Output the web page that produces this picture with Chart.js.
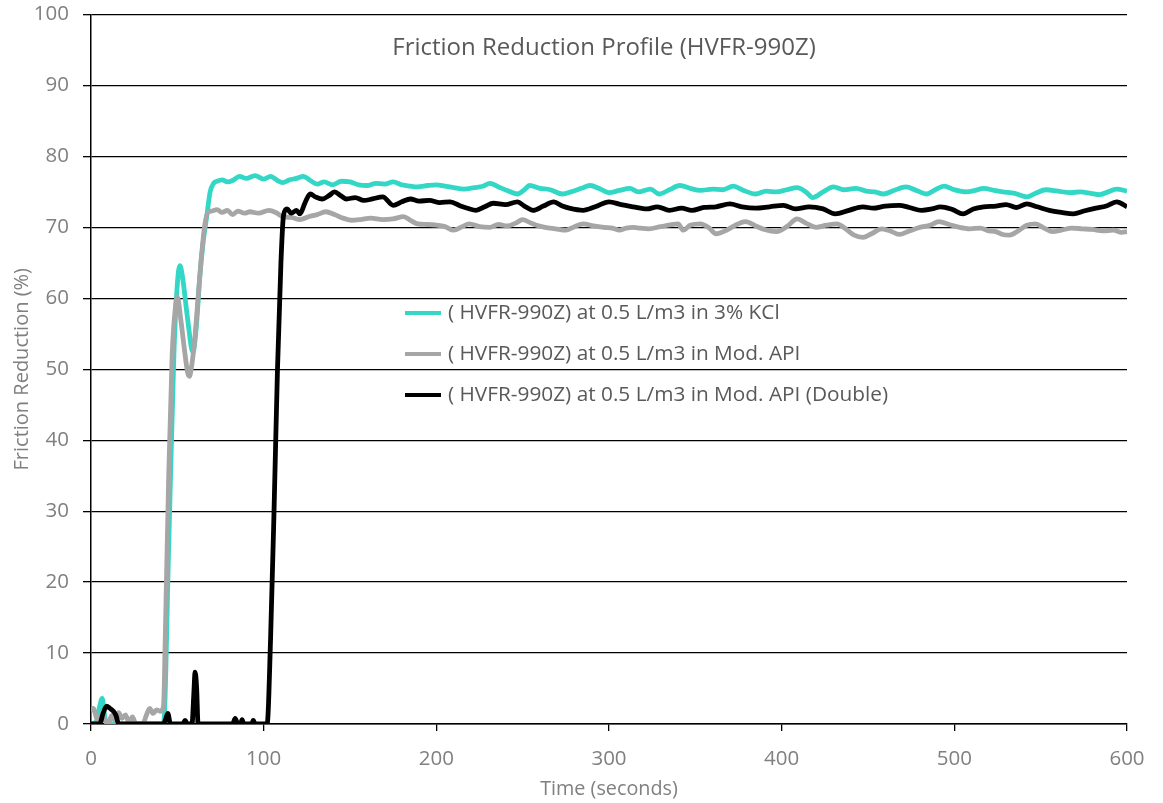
<!DOCTYPE html>
<html>
<head>
<meta charset="utf-8">
<script src="https://cdn.jsdelivr.net/npm/chart.js@4.4.1/dist/chart.umd.min.js"></script>
<style>
  html, body { margin: 0; padding: 0; background: #ffffff; }
  #wrap { width: 1163px; height: 803px; }
</style>
</head>
<body>
<div id="wrap"><canvas id="c" width="1163" height="803"></canvas></div>
<script>
const chartTitle = "Friction Reduction Profile (HVFR-990Z)";
const xAxisTitle = "Time (seconds)";
const yAxisTitle = "Friction Reduction (%)";
const seriesLabels = [
  "( HVFR-990Z) at 0.5 L/m3 in 3% KCl",
  "( HVFR-990Z) at 0.5 L/m3 in Mod. API",
  "( HVFR-990Z) at 0.5 L/m3 in Mod. API (Double)"
];
const seriesColors = ["#33D7C6", "#A6A6A6", "#000000"];

const kclTime = [0,3,5,6.5,8,9.5,42,45,48,50,51.5,53,56,59,61,63,65,67,69,71,73,76,79,82,86,90,95,100,104,108,111,115,119,123,127,131,135,140,145,150,155,160,165,170,175,180,185,189,195,200,205,210,216,222,227,231,236,241,247,251,254,260,266,273,278,284,289,295,300,306,312,317,324,329,335,341,347,353,360,366,372,378,385,391,397,403,409,414,418,424,430,436,443,449,454,459,465,472,478,484,489,494,500,507,512,517,523,528,535,542,547,553,560,567,573,579,584,589,594,600];
const kclValue = [0,0.3,2.5,3.6,1.0,0,0,25,52,62,64.6,63,57,52.4,56,63,68,71.5,75,76.2,76.5,76.7,76.4,76.6,77.2,76.9,77.3,76.8,77.2,76.6,76.3,76.7,76.9,77.2,76.6,76.1,76.4,76.0,76.5,76.4,76.0,75.9,76.2,76.1,76.4,76.0,75.8,75.7,75.9,76.0,75.8,75.6,75.4,75.6,75.8,76.2,75.7,75.2,74.7,75.3,75.9,75.5,75.3,74.7,75.0,75.5,75.9,75.4,74.9,75.2,75.5,75.0,75.4,74.7,75.3,75.9,75.5,75.2,75.4,75.3,75.8,75.2,74.7,75.1,75.0,75.3,75.6,75.0,74.2,75.0,75.7,75.3,75.5,75.1,75.0,74.7,75.2,75.7,75.2,74.7,75.3,75.8,75.3,75.0,75.2,75.5,75.2,75.0,74.8,74.3,74.8,75.3,75.1,74.9,75.0,74.8,74.6,75.0,75.4,75.1];

const apiTime = [0,1.5,3,4.5,6,8,10,12,14,16,18,20,22,24,26,30,32,34,36,38,40,42,43,45,47,49,50,52,54,56,57,58,60,62,64,66,68,70,73,76,79,82,85,89,92,97,103,107,111,116,121,126,131,136,141,146,151,156,162,169,175,181,185,189,195,200,205,210,215,219,225,231,236,241,246,250,254,258,263,269,275,280,285,291,297,302,306,310,314,318,323,330,340,343,347,353,358,362,368,374,379,385,390,397,403,409,414,420,426,432,437,442,447,452,458,463,468,474,480,486,491,497,503,509,515,520,524,528,532,537,542,547,552,557,562,568,574,580,586,592,597,600];
const apiValue = [1.8,2.2,1.0,0.3,1.5,0.6,0,1.2,0.5,1.6,0.8,1.3,0.2,1.0,0,0,1.2,2.2,1.5,2.0,1.8,2.5,12,35,52,59,60.2,57,53,49.5,49,50,54,60,66,70.5,72.2,72.3,72.5,72.1,72.4,71.8,72.3,72.0,72.2,72.0,72.4,72.1,71.5,71.4,71.1,71.5,71.8,72.2,71.8,71.3,71.0,71.1,71.3,71.1,71.2,71.5,71.0,70.5,70.4,70.3,70.1,69.6,70.1,70.5,70.1,70.0,70.4,70.2,70.6,71.1,70.7,70.3,70.0,69.8,69.6,70.1,70.5,70.2,70.0,69.9,69.6,69.9,70.0,69.9,69.8,70.1,70.5,69.6,70.3,70.5,69.9,69.1,69.6,70.4,70.8,70.2,69.7,69.4,70.1,71.2,70.6,70.0,70.3,70.5,69.8,68.9,68.6,69.1,69.8,69.5,69.0,69.5,70.0,70.3,70.8,70.4,70.0,69.8,69.9,69.5,69.4,69.0,68.9,69.5,70.3,70.5,69.9,69.4,69.6,69.9,69.8,69.7,69.5,69.6,69.3,69.4];

const dblTime = [0,5,7,9,11,13,14.5,16,42,43,44.5,46,53,54.5,56,58.5,59.5,60.3,61.2,62,82,83.5,85,86.5,87.5,88.5,93,94,95,102,104,106,108,110,111.5,113.5,116,119,121,124,127,130,134,138,141,145,148,153,158,163,169,175,180,185,190,196,202,208,214,218,223,228,233,240,247,251,256,262,268,273,277,285,292,300,307,314,322,328,335,342,348,355,362,370,377,385,393,401,408,416,424,431,439,447,453,460,468,474,481,487,492,499,505,511,517,524,530,536,542,548,555,562,569,575,582,588,594,600];
const dblValue = [0,0,1.5,2.5,2.2,1.8,1.2,0,0,0.5,1.5,0,0,0.5,0,0,4,7.3,5,0,0,0.8,0,0,0.6,0,0,0.5,0,0,12,30,50,65,71.7,72.6,72.0,72.4,71.9,73.5,74.7,74.3,74.0,74.5,75.0,74.4,74.0,74.2,73.8,74.0,74.3,73.1,73.6,74.0,73.7,73.8,73.5,73.6,73.0,72.7,72.4,72.9,73.4,73.2,73.6,73.0,72.4,73.0,73.6,73.0,72.7,72.4,72.9,73.6,73.2,72.9,72.6,72.9,72.4,72.7,72.4,72.8,72.9,73.3,72.9,72.7,72.9,73.1,72.6,72.9,72.6,71.9,72.4,72.9,72.7,73.0,73.1,72.8,72.4,72.6,72.9,72.5,71.9,72.6,72.9,73.0,73.2,72.8,73.3,72.9,72.4,72.1,71.9,72.3,72.7,73.0,73.6,72.9];

const xTicks = [0,100,200,300,400,500,600];
const yTicks = [0,10,20,30,40,50,60,70,80,90,100];

const FONT = "'Open Sans', 'Noto Sans', sans-serif";

function pts(t, v) { return t.map((x, i) => ({ x: x, y: v[i] })); }

const titlePlugin = {
  id: 'innerTitle',
  afterDraw(chart) {
    const { ctx } = chart;
    ctx.save();
    ctx.font = "24px " + FONT;
    ctx.fillStyle = "#595959";
    ctx.textAlign = "center";
    ctx.textBaseline = "middle";
    ctx.fillText(chartTitle, 604, 48);
    ctx.restore();
  }
};

const legendPlugin = {
  id: 'innerLegend',
  afterDraw(chart) {
    const { ctx } = chart;
    const ys = [313, 354, 395];
    ctx.save();
    chart.data.datasets.forEach((ds, i) => {
      ctx.strokeStyle = ds.borderColor;
      ctx.lineWidth = 4;
      ctx.beginPath();
      ctx.moveTo(405, ys[i]);
      ctx.lineTo(441, ys[i]);
      ctx.stroke();
      ctx.font = "20.8px " + FONT;
      ctx.fillStyle = "#595959";
      ctx.textAlign = "left";
      ctx.textBaseline = "middle";
      ctx.fillText(ds.label, 448, ys[i]);
    });
    ctx.restore();
  }
};

const seriesData = [pts(kclTime, kclValue), pts(apiTime, apiValue), pts(dblTime, dblValue)];
const drawOrder = [2, 1, 0];

new Chart(document.getElementById('c'), {
  type: 'line',
  data: {
    datasets: seriesLabels.map((lab, i) => ({
      label: lab,
      data: seriesData[i],
      borderColor: seriesColors[i],
      backgroundColor: seriesColors[i],
      borderWidth: 4.8,
      pointRadius: 0,
      order: drawOrder[i],
      cubicInterpolationMode: 'monotone',
      fill: false
    }))
  },
  options: {
    responsive: false,
    animation: false,
    devicePixelRatio: 1,
    layout: { padding: { left: 0, right: 36, top: 14, bottom: 0 } },
    plugins: {
      legend: { display: false },
      title: { display: false },
      tooltip: { enabled: false }
    },
    scales: {
      x: {
        type: 'linear',
        min: 0, max: 600,
        afterFit(s) { s.height = 79; },
        afterBuildTicks(s) { s.ticks = xTicks.map(v => ({ value: v })); },
        grid: { drawOnChartArea: false, drawTicks: true, tickLength: 7, color: '#000000', lineWidth: 1.3 },
        border: { display: true, color: '#000000', width: 1.5 },
        ticks: { color: '#808080', font: { family: FONT, size: 20.5 }, padding: 16, maxRotation: 0 },
        title: { display: true, text: xAxisTitle, color: '#808080', font: { family: FONT, size: 19.8 }, padding: { top: 0, bottom: 2 } }
      },
      y: {
        min: 0, max: 100,
        afterFit(s) { s.width = 91; },
        afterBuildTicks(s) { s.ticks = yTicks.map(v => ({ value: v })); },
        grid: { drawOnChartArea: true, drawTicks: true, tickLength: 8, color: '#000000', lineWidth: 1.3 },
        border: { display: true, color: '#000000', width: 1.5 },
        ticks: { color: '#808080', font: { family: FONT, size: 20.5, lineHeight: 0.05 }, padding: 14 },
        title: { display: true, text: yAxisTitle, color: '#808080', font: { family: FONT, size: 20 }, padding: { top: 10, bottom: 0 } }
      }
    }
  },
  plugins: [titlePlugin, legendPlugin]
});
</script>
</body>
</html>
